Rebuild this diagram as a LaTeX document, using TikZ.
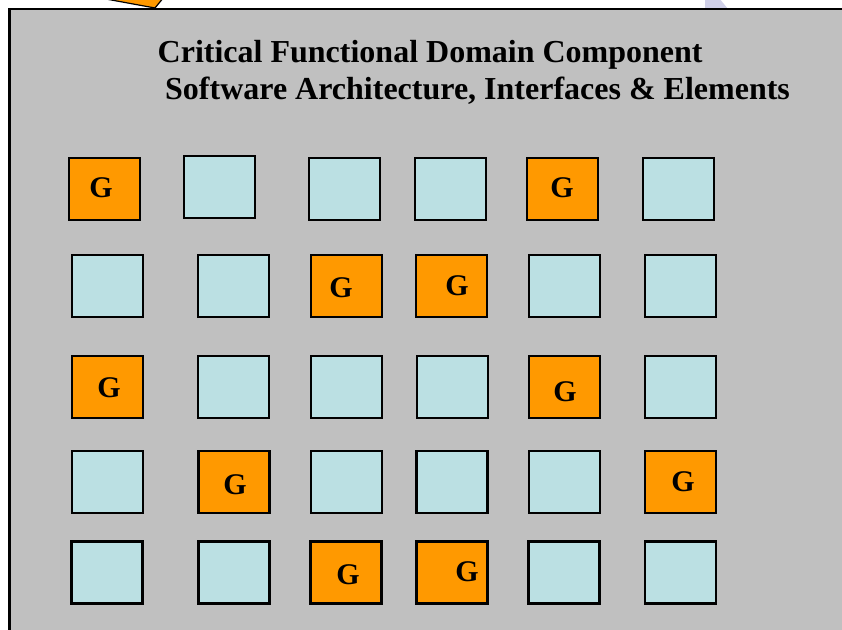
\documentclass[tikz,border=0pt]{standalone}
\usepackage{fontspec}
\setmainfont{Liberation Serif}
\definecolor{panelgray}{RGB}{192,192,192}
\definecolor{gorange}{RGB}{255,153,0}
\definecolor{lblue}{RGB}{187,224,227}
\definecolor{lav}{RGB}{208,208,232}
\begin{document}
\begin{tikzpicture}[x=1bp,y=-1bp,
  box/.style={draw=black,line width=2.3bp,minimum width=71bp,minimum height=62bp,inner sep=0pt,fill=lblue},
  gbox/.style={box,fill=gorange},
  gtext/.style={inner sep=0pt,font=\fontsize{30bp}{30bp}\selectfont\bfseries},
  title/.style={inner sep=0pt,anchor=base west,font=\fontsize{32bp}{36bp}\selectfont\bfseries}]
\useasboundingbox (0,0) rectangle (842,630);
% shapes peeking in above the panel
\fill[lav] (705,-2) -- (719,-2) -- (728,9) -- (705,9) -- cycle;
\draw[fill=gorange,line width=1.2bp] (95,-3) -- (155,8) -- (164,-3);
% panel
\draw[fill=panelgray,line width=2.3bp] (9.5,9.3) rectangle (860,650);
% title
\node[title] (t1) at (157.5,63) {Critical Functional Domain Component};
\node[title] (t2) at (165,100) {Software Architecture, Interfaces \& Elements};
% row 1
\node[gbox] (b11) at (104.3,188.7) {};
\node[box]  (b12) at (219.7,186.7) {};
\node[box]  (b13) at (344.7,188.8) {};
\node[box]  (b14) at (450.2,188.7) {};
\node[gbox] (b15) at (562.5,188.7) {};
\node[box]  (b16) at (678.8,188.7) {};
% row 2
\node[box]  (b21) at (107.2,285.7) {};
\node[box]  (b22) at (233.5,285.7) {};
\node[gbox] (b23) at (346.2,285.7) {};
\node[gbox] (b24) at (451.8,285.7) {};
\node[box]  (b25) at (564.3,285.7) {};
\node[box]  (b26) at (680.5,285.7) {};
% row 3
\node[gbox] (b31) at (107.2,386.8) {};
\node[box]  (b32) at (233.8,386.8) {};
\node[box]  (b33) at (346.2,386.8) {};
\node[box]  (b34) at (452.2,386.8) {};
\node[gbox] (b35) at (564.3,386.8) {};
\node[box]  (b36) at (680.7,386.8) {};
% row 4
\node[box]  (b41) at (107.7,481.7) {};
\node[gbox] (b42) at (234.0,481.7) {};
\node[box]  (b43) at (346.3,481.7) {};
\node[box]  (b44) at (452.0,481.7) {};
\node[box]  (b45) at (564.3,481.7) {};
\node[gbox] (b46) at (680.7,481.7) {};
% row 5
\node[box]  (b51) at (107.0,572.5) {};
\node[box]  (b52) at (234.0,572.5) {};
\node[gbox] (b53) at (346.0,572.5) {};
\node[gbox] (b54) at (452.0,572.5) {};
\node[box]  (b55) at (564.0,572.5) {};
\node[box]  (b56) at (680.5,572.5) {};
% G labels
\node[gtext] (g11) at (101,188) {G};
\node[gtext] (g15) at (562,188) {G};
\node[gtext] (g23) at (341,288) {G};
\node[gtext] (g24) at (457,286) {G};
\node[gtext] (g31) at (109,388) {G};
\node[gtext] (g35) at (565,392) {G};
\node[gtext] (g42) at (235,485) {G};
\node[gtext] (g46) at (683,482) {G};
\node[gtext] (g53) at (348,575) {G};
\node[gtext] (g54) at (467,572) {G};
\end{tikzpicture}
\end{document}
